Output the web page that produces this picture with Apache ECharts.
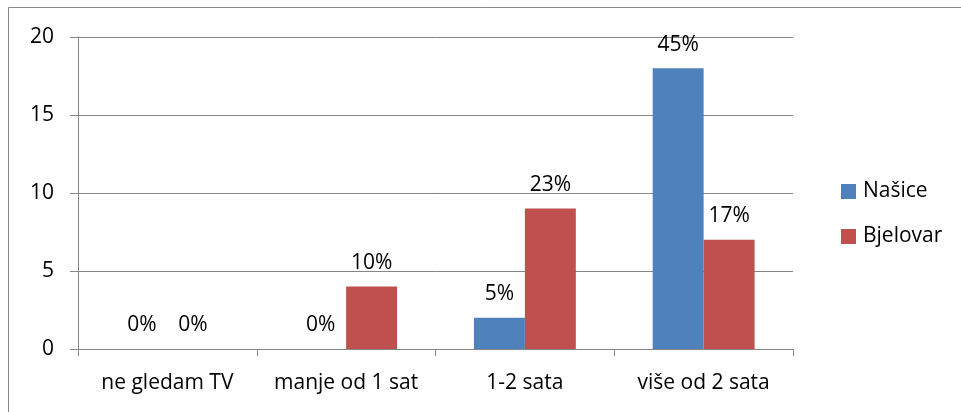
<!DOCTYPE html>
<html>
<head>
<meta charset="utf-8">
<script src="https://cdn.jsdelivr.net/npm/echarts@6/dist/echarts.min.js"></script>
<style>
  html, body { margin: 0; padding: 0; background: #fff; }
  #chart { width: 961px; height: 412px; }
</style>
</head>
<body>
<div id="chart"></div>
<script>
const categories = ['ne gledam TV', 'manje od 1 sat', '1-2 sata', 'više od 2 sata']
const nasiceValues = [0, 0, 2, 18]
const bjelovarValues = [0, 4, 9, 7]
const nasiceLabels = ['0%', '0%', '5%', '45%']
const bjelovarLabels = ['0%', '10%', '23%', '17%']
const yTicks = [0, 5, 10, 15, 20]

const FONT = '"Open Sans", sans-serif'
const GRID_COLOR = '#868686'

const chart = echarts.init(document.getElementById('chart'))

function barLabel(labels) {
  return {
    show: true,
    position: 'top',
    distance: 13,
    fontFamily: FONT,
    fontSize: 21,
    color: '#000',
    formatter: p => labels[p.dataIndex],
  }
}

chart.setOption({
  animation: false,
  textStyle: { fontFamily: FONT },
  graphic: [{
    type: 'rect',
    shape: { x: 8.5, y: 7.5, width: 1200, height: 1200 },
    style: { fill: 'none', stroke: '#898989', lineWidth: 1 },
    silent: true,
  }],
  grid: { left: 78, right: 168, top: 37, bottom: 63 },
  legend: {
    orient: 'vertical',
    left: 836,
    top: 176,
    itemWidth: 15,
    itemHeight: 15,
    itemGap: 24,
    icon: 'rect',
    textStyle: { fontFamily: FONT, fontSize: 21, color: '#000', padding: [0, 0, 0, 2] },
    data: ['Našice', 'Bjelovar'],
  },
  xAxis: {
    type: 'category',
    data: categories,
    axisLine: { lineStyle: { color: GRID_COLOR, width: 1 } },
    axisTick: { show: true, length: 7, lineStyle: { color: GRID_COLOR } },
    axisLabel: { fontFamily: FONT, fontSize: 21, color: '#000', margin: 24, interval: 0, hideOverlap: false },
  },
  yAxis: {
    type: 'value',
    min: yTicks[0],
    max: yTicks[yTicks.length - 1],
    interval: 5,
    axisLine: { show: true, lineStyle: { color: GRID_COLOR, width: 1 } },
    axisTick: { show: true, length: 8, lineStyle: { color: GRID_COLOR } },
    axisLabel: { fontFamily: FONT, fontSize: 21, color: '#000', margin: 24 },
    splitLine: { lineStyle: { color: GRID_COLOR, width: 1 } },
  },
  series: [
    {
      name: 'Našice',
      type: 'bar',
      data: nasiceValues,
      itemStyle: { color: '#4F81BD' },
      barGap: '0%',
      barCategoryGap: '43%',
      label: barLabel(nasiceLabels),
    },
    {
      name: 'Bjelovar',
      type: 'bar',
      data: bjelovarValues,
      itemStyle: { color: '#C0504D' },
      label: barLabel(bjelovarLabels),
    },
  ],
})
</script>
</body>
</html>
